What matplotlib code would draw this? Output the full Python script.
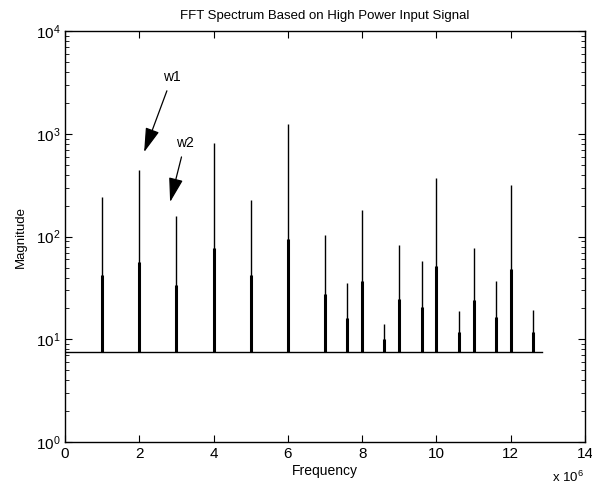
import matplotlib
matplotlib.use("Agg")
import matplotlib.pyplot as plt
from matplotlib.ticker import LogLocator, NullFormatter

plt.rcParams["font.family"] = ["Liberation Sans", "DejaVu Sans"]
plt.rcParams["mathtext.fontset"] = "custom"
plt.rcParams["mathtext.rm"] = "Liberation Sans"

# spectral lines (frequency in units of 1e6)
freqs = [1, 2, 3, 4, 5, 6, 7, 7.6, 8, 8.6, 9, 9.6, 10, 10.6, 11, 11.6, 12, 12.6]
peak_mag = [244, 441, 158, 807, 225, 1236, 103, 35, 181, 14, 83, 58, 373, 18.8, 77, 37, 319, 19.3]
low_mag = [42, 57, 34, 77, 42, 95, 27.4, 16, 37, 10, 24.6, 20.7, 52, 11.8, 24, 16.5, 48, 11.8]
floor_mag = 7.6
f_end = 12.83

fig = plt.figure(figsize=(5.92, 4.94), dpi=100)
ax = fig.add_axes([0.1098, 0.105, 0.8784, 0.832])

ax.plot([0, f_end], [floor_mag, floor_mag], color="black", lw=1.0)
ax.vlines(freqs, floor_mag, peak_mag, color="black", lw=1.0)
ax.vlines(freqs, floor_mag, low_mag, color="black", lw=2.2)

ax.set_yscale("log")
ax.set_xlim(0, 14)
ax.set_ylim(1, 1e4)
ax.set_xticks(range(0, 15, 2))
ax.yaxis.set_major_locator(LogLocator(base=10, numticks=10))
ax.yaxis.set_minor_locator(LogLocator(base=10, subs=range(2, 10), numticks=10))
ax.yaxis.set_minor_formatter(NullFormatter())
ax.tick_params(which="both", direction="in", top=True, right=True, labelsize=11)
ax.tick_params(which="major", length=5)
ax.tick_params(which="minor", length=3)
for s in ax.spines.values():
    s.set_linewidth(1.0)

ax.set_title("FFT Spectrum Based on High Power Input Signal", fontsize=9.5, pad=9)
ax.set_xlabel("Frequency", fontsize=10, labelpad=2)
ax.set_ylabel("Magnitude", fontsize=9.5, labelpad=6)
ax.text(0.998, -0.068, "x 10$^6$", transform=ax.transAxes, ha="right", va="top", fontsize=9.5)

arrow = dict(arrowstyle="-|>,head_length=0.75,head_width=0.22", color="black", lw=0.9,
             mutation_scale=20, shrinkA=3, shrinkB=0)
ax.annotate("w1", xy=(2.13, 664), xytext=(2.88, 3566), ha="center", va="center",
            fontsize=10, arrowprops=arrow)
ax.annotate("w2", xy=(2.83, 217), xytext=(3.23, 813), ha="center", va="center",
            fontsize=10, arrowprops=arrow)

fig.savefig("out.png", dpi=100)
